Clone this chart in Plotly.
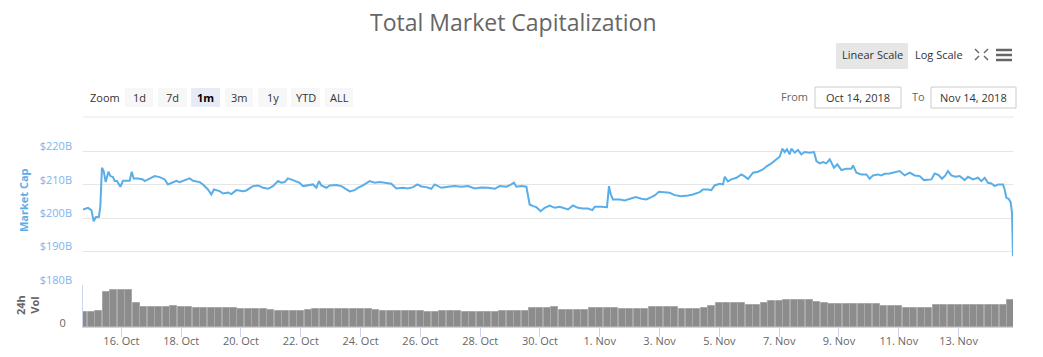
import pandas as pd
import plotly.graph_objects as go

# ---------------- data ----------------
# hours relative to 2018-10-16 00:00
mcap_hours = [-30.8, -26.8, -24.1, -22.2, -20.6, -18.0, -16.9, -15.6, -14.2, -12.6, -10.4, -8.8, -6.7, -5.4, -3.5, -0.8,
              1.3, 6.7, 8.3, 9.9, 13.3, 17.3, 18.7, 22.7, 26.7, 30.7, 34.8, 37.4, 40.1, 44.1, 46.8, 50.8, 54.8, 57.5,
              62.9, 65.5, 69.5, 72.2, 74.3, 78.9, 81.6, 85.6, 88.3, 92.3, 97.6, 100.3, 105.6, 109.6, 113.7, 117.7,
              121.7, 125.7, 128.4, 131.1, 133.7, 137.7, 143.1, 145.8, 149.8, 153.8, 156.5, 158.6, 160.5, 164.6,
              167.2, 172.6, 176.6, 180.6, 183.3, 187.3, 189.9, 193.9, 199.3, 203.3, 207.3, 211.4, 216.7, 220.7,
              226.0, 230.0, 234.1, 237.6, 240.8, 244.8, 248.8, 251.5, 256.9, 262.2, 267.5, 272.9, 278.2, 283.6,
              289.0, 294.3, 299.7, 303.7, 309.0, 313.0, 315.1, 317.1, 321.1, 325.1, 327.7, 330.4, 333.1, 336.6,
              339.8, 343.8, 347.8, 351.8, 355.8, 358.5, 362.5, 366.5, 370.5, 374.5, 378.1, 379.9, 385.3, 389.8,
              391.4, 392.8, 394.6, 400.0, 404.0, 408.0, 412.8, 417.4, 421.4, 425.4, 428.1, 431.5, 436.1, 440.1,
              444.1, 449.5, 454.8, 458.8, 464.2, 466.9, 470.9, 473.6, 476.2, 480.3, 482.9, 484.3, 486.9, 489.6,
              493.7, 497.7, 500.3, 503.0, 507.0, 511.0, 515.0, 518.2, 521.8, 525.8, 528.4, 530.6, 532.4, 534.3,
              536.4, 537.8, 540.5, 543.1, 545.8, 548.5, 552.5, 556.0, 557.9, 560.5, 563.2, 565.9, 568.6, 572.0,
              574.7, 578.0, 582.0, 586.0, 587.3, 590.0, 594.0, 598.0, 600.7, 603.3, 607.3, 610.0, 612.7, 616.7,
              620.7, 624.7, 628.8, 632.8, 636.8, 640.8, 644.2, 647.5, 650.2, 652.8, 656.0, 658.7, 661.4, 663.5,
              666.2, 669.5, 672.9, 676.9, 679.6, 683.6, 687.6, 690.3, 693.0, 695.6, 698.4, 701.0, 703.7, 707.7,
              709.0, 710.4, 712.2, 713.8, 714.9, 715.7]

# market cap, billions USD
mcap_values = [202.6, 203.1, 202.4, 199.1, 200.3, 200.4, 203.6, 215.1, 214.1, 210.8, 213.9, 212.6, 212.3, 211.1,
               211.1, 209.4, 211.2, 211.2, 213.9, 211.9, 211.9, 211.6, 211.1, 211.9, 212.6, 212.3, 211.6, 210.1,
               210.6, 211.2, 210.8, 211.4, 211.9, 211.2, 210.8, 210.1, 208.6, 207.1, 208.6, 208.1, 207.4, 207.7,
               207.2, 208.4, 208.1, 208.3, 209.6, 209.8, 209.1, 208.8, 209.6, 211.1, 210.6, 210.8, 211.9, 211.4,
               210.6, 209.6, 209.9, 210.1, 209.1, 211.1, 209.8, 209.1, 209.8, 209.9, 209.6, 208.6, 208.0, 208.4,
               209.1, 209.8, 211.1, 210.6, 210.8, 210.6, 210.3, 208.9, 209.1, 208.9, 209.3, 210.1, 209.5, 209.3,
               208.8, 210.1, 209.1, 209.4, 209.6, 209.4, 209.6, 208.9, 209.2, 209.1, 208.8, 209.6, 209.4, 210.1,
               210.6, 209.4, 209.6, 209.4, 204.1, 203.6, 203.3, 202.1, 203.1, 203.8, 203.1, 203.4, 202.9, 202.6,
               203.8, 203.1, 202.9, 202.9, 202.4, 203.4, 203.4, 203.3, 209.6, 207.1, 205.6, 205.6, 205.3, 205.8,
               206.3, 205.8, 205.6, 206.3, 206.8, 207.9, 207.8, 207.6, 206.9, 206.6, 206.8, 207.1, 207.8, 208.6,
               208.6, 208.4, 209.8, 210.3, 210.1, 212.4, 211.0, 211.6, 212.1, 213.1, 212.5, 211.7, 213.6, 213.9,
               214.6, 215.6, 216.4, 217.6, 218.4, 220.8, 219.8, 220.6, 219.1, 220.8, 219.6, 220.4, 219.1, 219.8,
               219.6, 219.8, 217.1, 216.4, 216.8, 216.4, 217.6, 215.1, 216.1, 214.4, 214.8, 214.8, 215.8, 213.6,
               213.1, 213.1, 211.8, 212.8, 213.1, 212.8, 213.3, 213.4, 213.8, 214.1, 212.8, 213.6, 212.8, 212.6,
               211.4, 211.6, 211.6, 213.4, 212.9, 211.8, 212.8, 214.1, 212.8, 212.4, 212.6, 211.4, 212.4, 211.6,
               212.1, 211.1, 212.1, 210.6, 210.4, 209.6, 210.1, 210.1, 208.6, 206.1, 205.8, 204.8, 201.6, 188.6]

# 24h volume, billions USD, one bar per 6 hours from 2018-10-14 18:00
volume_values = [7.8, 7.8, 8.6, 18.1, 19.5, 19.5, 19.5, 12.4, 10.6, 10.6, 10.6, 10.7, 11.2, 10.6, 10.6, 10.1,
                 9.8, 9.8, 9.8, 9.8, 9.8, 9.3, 9.3, 9.3, 9.3, 8.8, 8.3, 8.3, 8.3, 8.4, 8.8, 9.3, 9.3, 9.5, 9.3,
                 9.2, 9.2, 9.2, 9.2, 8.8, 8.4, 8.4, 8.4, 8.4, 8.4, 8.4, 7.6, 7.6, 8.4, 8.4, 8.4, 8.0, 7.6, 7.6,
                 7.6, 7.6, 8.4, 8.4, 8.4, 8.4, 10.0, 10.0, 10.0, 10.7, 8.8, 8.8, 8.8, 8.8, 9.8, 10.0, 10.0, 10.0,
                 9.6, 9.2, 9.2, 9.2, 10.4, 10.4, 10.4, 10.4, 9.2, 9.2, 9.2, 10.1, 10.9, 12.6, 12.6, 12.6, 12.6,
                 11.7, 11.7, 12.4, 13.5, 13.5, 14.3, 14.3, 14.3, 14.3, 12.9, 12.4, 12.3, 12.3, 12.3, 12.3, 12.3,
                 12.3, 11.9, 10.9, 10.9, 10.9, 10.0, 10.0, 10.0, 10.0, 11.4, 11.4, 11.7, 11.7, 11.7, 11.7, 11.7,
                 11.7, 11.7, 11.7, 14.0]

mcap_tick_values = [180, 190, 200, 210, 220]
mcap_tick_labels = ["$180B", "$190B", "$200B", "$210B", "$220B"]

assert len(mcap_hours) == len(mcap_values), (len(mcap_hours), len(mcap_values))

base = pd.Timestamp("2018-10-16 00:00")
mcap_dates = [base + pd.Timedelta(hours=h) for h in mcap_hours]
vol_dates = pd.date_range("2018-10-14 18:00", periods=len(volume_values), freq="6h")

# ---------------- layout geometry (pixels) ----------------
W, H = 1043, 357
L, R, T, B = 83, 30, 140, 30
PW, PH = W - L - R, H - T - B


def px(x):
    return (x - L) / PW


def py(y):
    return (H - B - y) / PH


vol_top = py(285)
FONT = "Open Sans, Arial, sans-serif"

fig = go.Figure()
fig.add_trace(go.Bar(x=vol_dates, y=volume_values, yaxis="y2", marker_color="#8c8c8c",
                     marker_line=dict(color="#a8a8a8", width=1), width=5.6 * 3600 * 1000,
                     hoverinfo="skip"))
fig.add_trace(go.Scatter(x=mcap_dates, y=mcap_values, mode="lines", yaxis="y",
                         line=dict(color="#5aaee8", width=2)))

annotations = []
shapes = []


def ann(text, x, y, size=11, color="#333333", bold=False, anchor="center", angle=0):
    annotations.append(dict(text=f"<b>{text}</b>" if bold else text, x=px(x), y=py(y), xref="paper",
                            yref="paper", showarrow=False, xanchor=anchor, yanchor="middle",
                            textangle=angle, font=dict(family=FONT, size=size, color=color)))


def rect(x0, y0, x1, y1, fill, line=None):
    shapes.append(dict(type="rect", xref="paper", yref="paper", x0=px(x0), x1=px(x1), y0=py(y1), y1=py(y0),
                       fillcolor=fill, line=dict(color=line or fill, width=1 if line else 0), layer="below"))


def seg(x0, y0, x1, y1, color, width=1):
    shapes.append(dict(type="line", xref="paper", yref="paper", x0=px(x0), x1=px(x1), y0=py(y0), y1=py(y1),
                       line=dict(color=color, width=width)))


# title
ann("Total Market Capitalization", 513, 22, size=23, color="#666666")

# scale buttons
rect(836, 43, 908, 69, "#e6e6e6")
ann("Linear Scale", 872, 55, size=11, color="#333333")
ann("Log Scale", 939, 55, size=11, color="#333333")
# fullscreen icon
for (cx, cy, dx, dy) in [(975, 49, 1, 1), (988, 49, -1, 1), (975, 60, 1, -1), (988, 60, -1, -1)]:
    seg(cx, cy, cx + 4 * dx, cy + 4 * dy, "#666666", 1.5)
# hamburger
for yy in (50, 55, 60):
    seg(996, yy, 1012, yy, "#666666", 2.5)

# zoom buttons
ann("Zoom", 105, 97, size=11, color="#333333")
zoom_buttons = [("1d", 125, 153), ("7d", 158, 187), ("1m", 191, 220), ("3m", 225, 253),
                ("1y", 258, 287), ("YTD", 291, 320), ("ALL", 325, 353)]
for label, x0, x1 in zoom_buttons:
    active = label == "1m"
    rect(x0, 88, x1, 107, "#e6ebf5" if active else "#f7f7f7")
    ann(label, (x0 + x1) / 2, 97, size=11, color="#000000" if active else "#333333", bold=active)

ann("From", 794, 96, size=11, color="#666666")
rect(815, 87, 901, 108, "#ffffff", "#cccccc")
ann("Oct 14, 2018", 858, 97, size=11, color="#333333")
ann("To", 918, 96, size=11, color="#666666")
rect(931, 87, 1016, 108, "#ffffff", "#cccccc")
ann("Nov 14, 2018", 973.5, 97, size=11, color="#333333")

seg(83, 117, 1014, 117, "#e6e6e6", 1)

# axis titles
ann("Market Cap", 23, 200, size=11, color="#5aaee8", bold=True, angle=-90)
ann("24h<br>Vol", 27, 305, size=11, color="#666666", bold=True, angle=-90)

fig.update_layout(
    width=W, height=H, autosize=False,
    margin=dict(l=L, r=R, t=T, b=B, autoexpand=False),
    paper_bgcolor="white", plot_bgcolor="white",
    showlegend=False, bargap=0,
    font=dict(family=FONT, size=11, color="#666666"),
    xaxis=dict(type="date", domain=[0, 1], anchor="y2", range=[mcap_dates[0], mcap_dates[-1]],
               tick0="2018-10-16", dtick=2 * 86400000, tickformat="%-d. %b", automargin=False,
               ticks="outside", ticklen=9, tickcolor="#ccd6eb", showline=True, linecolor="#ccd6eb",
               ticklabelstandoff=-5,
               showgrid=False, zeroline=False, tickfont=dict(size=11, color="#666666")),
    yaxis=dict(domain=[vol_top, 1], range=[180, 223.4], tickvals=mcap_tick_values, ticktext=mcap_tick_labels,
               showgrid=True, gridcolor="#e6e6e6", gridwidth=1, zeroline=False, showline=False,
               automargin=False,
               tickfont=dict(size=11, color="#7cb5ec"), ticklabelshift=-5, ticklabelstandoff=10),
    yaxis2=dict(domain=[0, vol_top], range=[0, 22], tickvals=[0], ticktext=["0"], showgrid=False,
                zeroline=False, showline=True, linecolor="#ccd6eb", automargin=False,
                tickfont=dict(size=11, color="#666666"), ticklabelshift=-4, ticklabelstandoff=14),
    annotations=annotations,
    shapes=shapes,
)

fig.write_html("out.html", config={"displayModeBar": False},
               post_script="document.body.style.margin='0';document.body.style.overflow='hidden';")
